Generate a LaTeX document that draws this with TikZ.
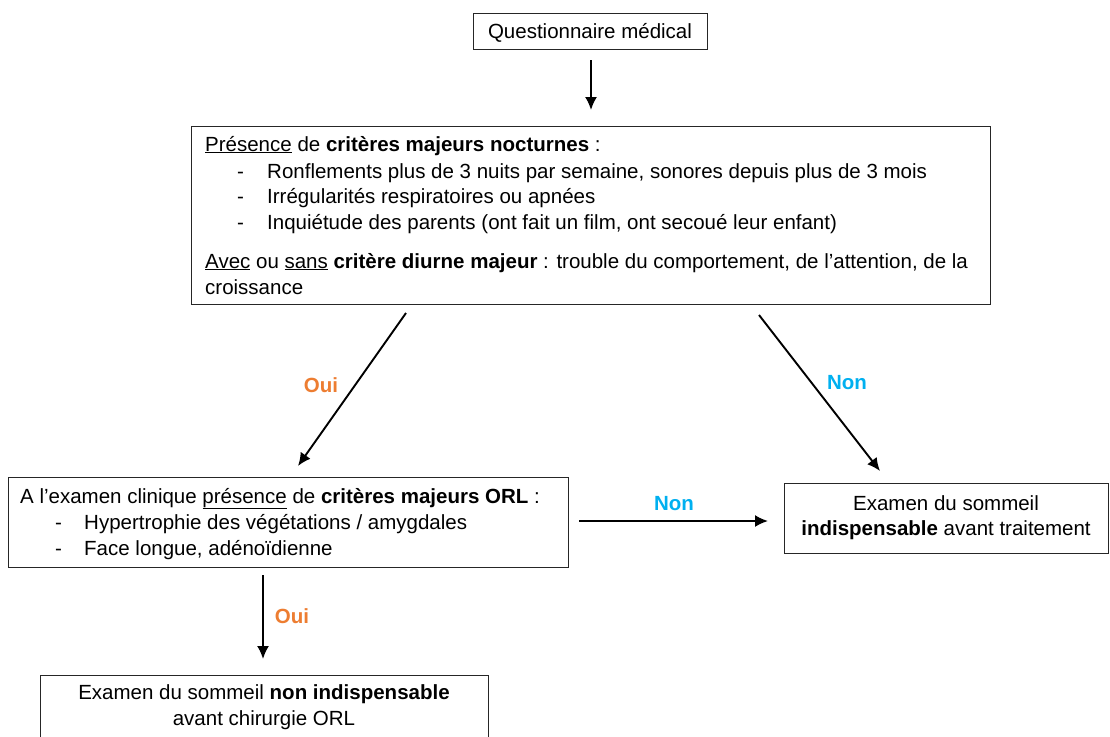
\documentclass[tikz,border=0pt]{standalone}
\usepackage{fontspec}
\setmainfont{Liberation Sans}
\usetikzlibrary{arrows.meta}
\definecolor{ouicol}{HTML}{ED7D31}
\definecolor{noncol}{HTML}{00B0F0}
\begin{document}
\begin{tikzpicture}[x=1pt,y=-1pt,
  box/.style={draw=black!85, line width=1pt, inner sep=0pt, fill=white},
  txt/.style={inner sep=0pt, anchor=base west, font=\fontsize{20.5}{25}\selectfont},
  ctxt/.style={txt, anchor=base},
  lbl/.style={inner sep=0pt, font=\fontsize{20.5}{25}\selectfont\bfseries},
  arr/.style={line width=1.9pt, -{Latex[length=13pt,width=12pt]}}]
\clip (0,0) rectangle (1110,736);
\fill[white] (0,0) rectangle (1110,736);
% boxes
\node[box, minimum width=234pt, minimum height=36pt] (q) at (590,31) {};
\node[box, minimum width=799pt, minimum height=178pt] (big) at (590.5,215) {};
\node[box, minimum width=560pt, minimum height=90pt] (orl) at (288,522) {};
\node[box, minimum width=324pt, minimum height=70pt] (right) at (946,518) {};
\node[box, minimum width=448pt, minimum height=90pt] (bot) at (264,720) {};
% texts
\node[ctxt] (tq) at (590,38) {Questionnaire médical};
\node[txt] (b1) at (205,151) {\underline{Présence} de \textbf{critères majeurs nocturnes} :};
\node[txt] (b2d) at (237,178) {-};
\node[txt] (b2) at (267,178) {Ronflements plus de 3 nuits par semaine, sonores depuis plus de 3 mois};
\node[txt] (b3d) at (237,203.5) {-};
\node[txt] (b3) at (267,203.5) {Irrégularités respiratoires ou apnées};
\node[txt] (b4d) at (237,229) {-};
\node[txt] (b4) at (267,229) {Inquiétude des parents (ont fait un film, ont secoué leur enfant)};
\node[txt] (b5) at (205,268) {\underline{Avec} ou \underline{sans} \textbf{critère diurne majeur} : trouble du comportement, de l’attention, de la};
\node[txt] (b6) at (205,294) {croissance};
\node[txt] (o1) at (20,503) {A l’examen clinique \underline{présence} de \textbf{critères majeurs ORL} :};
\node[txt] (o2d) at (55,529) {-};
\node[txt] (o2) at (84,529) {Hypertrophie des végétations / amygdales};
\node[txt] (o3d) at (55,555) {-};
\node[txt] (o3) at (84,555) {Face longue, adénoïdienne};
\node[ctxt] (r1) at (946,510) {Examen du sommeil};
\node[ctxt] (r2) at (946,535) {\textbf{indispensable} avant traitement};
\node[ctxt] (m1) at (264,699) {Examen du sommeil \textbf{non indispensable}};
\node[ctxt] (m2) at (264,725) {avant chirurgie ORL};
% arrow end points
\coordinate (a1s) at (591,60);  \coordinate (a1e) at (591,110);
\coordinate (a2s) at (406,313); \coordinate (a2e) at (298,466);
\coordinate (a3s) at (759,315); \coordinate (a3e) at (880,471);
\coordinate (a4s) at (579,521); \coordinate (a4e) at (768,521);
\coordinate (a5s) at (263,575); \coordinate (a5e) at (263,659);
\draw[arr] (a1s) -- (a1e);
\draw[arr] (a2s) -- (a2e);
\draw[arr] (a3s) -- (a3e);
\draw[arr] (a4s) -- (a4e);
\draw[arr] (a5s) -- (a5e);
% labels
\node[lbl, text=ouicol] (l1) at (321,385) {Oui};
\node[lbl, text=noncol] (l2) at (847,383) {Non};
\node[lbl, text=noncol] (l3) at (674,504) {Non};
\node[lbl, text=ouicol] (l4) at (292,616) {Oui};
\end{tikzpicture}
\end{document}
